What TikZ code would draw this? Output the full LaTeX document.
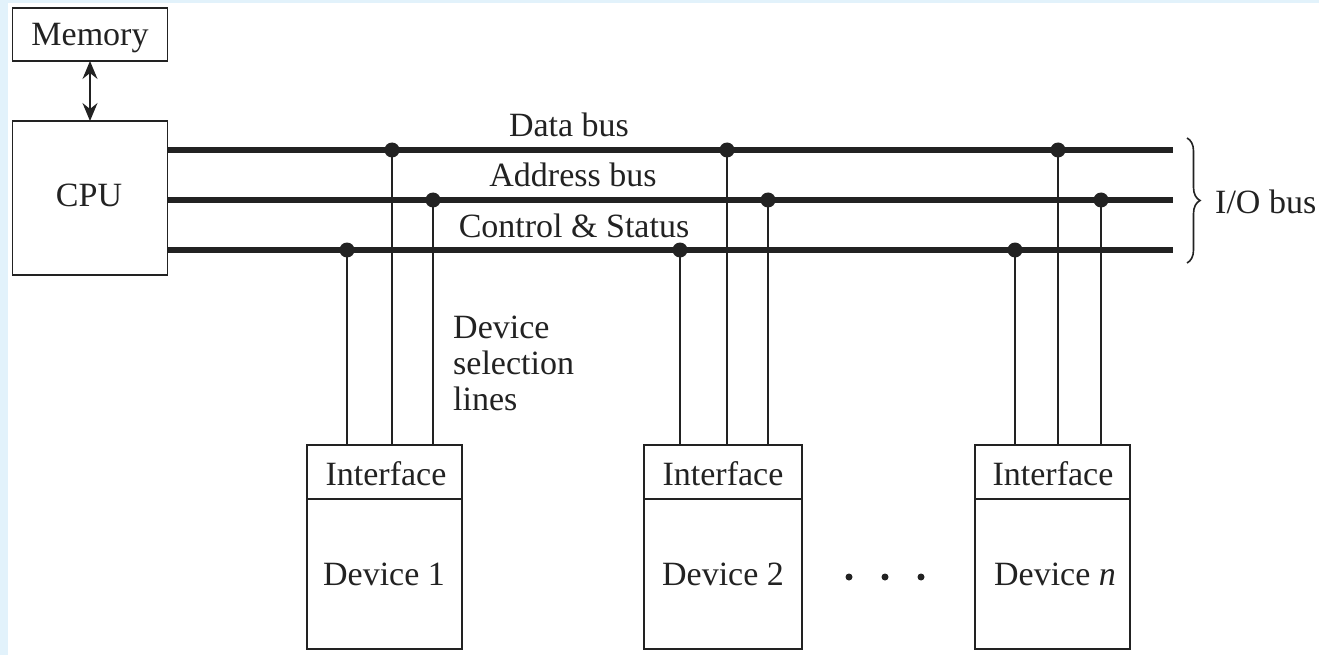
\documentclass[tikz,border=0pt]{standalone}
\usepackage{fontspec}
\setmainfont{Liberation Serif}
\usetikzlibrary{arrows.meta,decorations.pathreplacing}
\definecolor{bgblue}{HTML}{E2F2FB}
\definecolor{ink}{HTML}{222222}
\begin{document}
\begin{tikzpicture}[x=1pt,y=-1pt,
  font=\fontsize{34}{36}\selectfont,
  box/.style={draw=ink,line width=1.8pt,inner sep=0,outer sep=0},
  bus/.style={draw=ink,line width=6.5pt},
  tap/.style={draw=ink,line width=1.8pt},
  junc/.style={circle,fill=ink,inner sep=0,minimum size=15pt},
  edot/.style={circle,fill=ink,inner sep=0,minimum size=7pt},
  lbl/.style={anchor=base,inner sep=0,text=ink},
  lblw/.style={anchor=base west,inner sep=0,text=ink},
  headtip/.tip={Stealth[length=18pt,width=15pt,inset=6pt]}]
\fill[bgblue] (0,0) rectangle (1319,655);
\fill[white] (8,3) rectangle (1319,655);
\useasboundingbox (0,0) rectangle (1319,655);

% Memory and CPU
\node[box,minimum width=155pt,minimum height=53pt] (mem) at (90,34.5) {};
\node[lbl] (memt) at (90,46) {Memory};
\node[box,minimum width=155pt,minimum height=154pt] (cpu) at (90,198) {};
\node[lbl] (cput) at (89,207) {CPU};
\draw[tap,headtip-headtip] (mem.south) -- (cpu.north);

% bus ends
\coordinate (de) at (1173,150);
\coordinate (ae) at (1173,200);
\coordinate (ce) at (1173,250);
\draw[bus] (cpu.east |- de) -- (de);
\draw[bus] (cpu.east |- ae) -- (ae);
\draw[bus] (cpu.east |- ce) -- (ce);

\node[lbl] (dbl) at (569,137) {Data bus};
\node[lbl] (abl) at (573,186) {Address bus};
\node[lbl] (cbl) at (574,237) {Control \& Status};

% devices
\node[box,minimum width=155pt,minimum height=54pt] (if1) at (384.5,472) {};
\node[box,minimum width=155pt,minimum height=150pt,anchor=north] (dv1) at (if1.south) {};
\node[lbl] (if1t) at (386,485) {Interface};
\node[lbl] (dv1t) at (384,585) {Device 1};

\node[box,minimum width=158pt,minimum height=54pt] (if2) at (723,472) {};
\node[box,minimum width=158pt,minimum height=150pt,anchor=north] (dv2) at (if2.south) {};
\node[lbl] (if2t) at (723,485) {Interface};
\node[lbl] (dv2t) at (723,585) {Device 2};

\node[box,minimum width=155pt,minimum height=54pt] (ifn) at (1052.5,472) {};
\node[box,minimum width=155pt,minimum height=150pt,anchor=north] (dvn) at (ifn.south) {};
\node[lbl] (ifnt) at (1053,485) {Interface};
\node[lbl] (dvnt) at (1055,585) {Device \textit{n}};

% junctions
\node[junc] (j1c) at (347,250) {};
\node[junc] (j1d) at (392,150) {};
\node[junc] (j1a) at (433,200) {};
\node[junc] (j2c) at (680,250) {};
\node[junc] (j2d) at (727,150) {};
\node[junc] (j2a) at (768,200) {};
\node[junc] (jnc) at (1015,250) {};
\node[junc] (jnd) at (1058,150) {};
\node[junc] (jna) at (1101,200) {};

\foreach \j/\f in {j1c/if1,j1d/if1,j1a/if1,j2c/if2,j2d/if2,j2a/if2,jnc/ifn,jnd/ifn,jna/ifn}
  \draw[tap] (\j.center) -- (\j.center |- \f.north);

% device selection lines label
\node[lblw] (ds1) at (453,338) {Device};
\node[lblw] (ds2) at (453,374) {selection};
\node[lblw] (ds3) at (453,410) {lines};

% ellipsis
\node[edot] (e1) at (849,577) {};
\node[edot] (e2) at (885,577) {};
\node[edot] (e3) at (921,577) {};

% brace
\coordinate (bt) at (1187,138);
\coordinate (bb) at (1187,263);
\draw[ink,line width=1.6pt,decorate,decoration={brace,amplitude=13pt}] (bt) -- (bb);
\node[lblw] (iob) at (1215,213) {I/O bus};
\end{tikzpicture}
\end{document}
